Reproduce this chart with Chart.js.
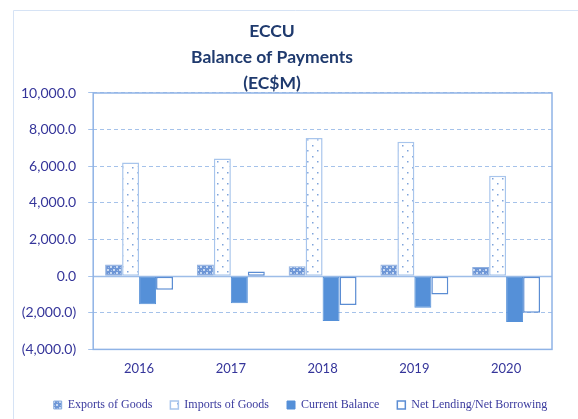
<!DOCTYPE html>
<html>
<head>
<meta charset="utf-8">
<script src="https://cdn.jsdelivr.net/npm/chart.js@4/dist/chart.umd.min.js"></script>
<style>
html,body{margin:0;padding:0;background:#fff;}
#wrap{position:relative;width:578px;height:419px;}
</style>
</head>
<body>
<div id="wrap"><canvas id="c" width="578" height="419"></canvas></div>
<script>
const categories = ['2016', '2017', '2018', '2019', '2020'];
const exportsOfGoods = [640, 640, 540, 630, 500];
const importsOfGoods = [6200, 6420, 7540, 7340, 5480];
const currentBalance = [-1530, -1480, -2450, -1720, -2510];
const netLending = [-740, 260, -1570, -1000, -2000];
const seriesNames = ['Exports of Goods', 'Imports of Goods', 'Current Balance', 'Net Lending/Net Borrowing'];
const titleLines = ['ECCU', 'Balance of Payments', '(EC$M)'];
const yMin = -4000, yMax = 10000, yStep = 2000;

function makePattern(w, h, draw) {
  const c = document.createElement('canvas');
  c.width = w; c.height = h;
  const g = c.getContext('2d');
  draw(g);
  return document.getElementById('c').getContext('2d').createPattern(c, 'repeat');
}
const exportsPattern = makePattern(6, 6, g => {
  g.fillStyle = '#6E96D6'; g.fillRect(0, 0, 6, 6);
  g.fillStyle = '#C9DAF2';
  g.fillRect(0, 0, 1, 1); g.fillRect(2, 2, 2, 2); g.fillRect(5, 0, 1, 1);
  g.fillRect(0, 5, 1, 1); g.fillRect(5, 5, 1, 1);
  g.fillStyle = '#A3BEE8';
  g.fillRect(3, 0, 1, 1); g.fillRect(0, 3, 1, 1);
});
const importsPattern = makePattern(10, 11, g => {
  g.fillStyle = '#FFFFFF'; g.fillRect(0, 0, 10, 11);
  g.fillStyle = '#7EA3DB';
  g.fillRect(2, 2, 1.5, 1.5); g.fillRect(7, 7, 1.5, 1.5);
});

function fmt(v) {
  const s = Math.abs(v).toLocaleString('en-US', {minimumFractionDigits: 1, maximumFractionDigits: 1});
  return v < 0 ? '(' + s + ')' : s;
}

const frame = {
  id: 'frame',
  beforeDraw(chart) {
    const ctx = chart.ctx;
    ctx.save();
    ctx.strokeStyle = '#D6E3F5';
    ctx.lineWidth = 1;
    ctx.beginPath();
    ctx.moveTo(13.5, 419); ctx.lineTo(13.5, 10.5); ctx.lineTo(578, 10.5);
    ctx.stroke();
    ctx.restore();
  },
  afterLayout(chart) {
    if (chart.titleBlock) { chart.titleBlock.left = 0; chart.titleBlock.right = 544; }
    if (chart.legend) { chart.legend.left += 20; chart.legend.right += 20; }
  },
  beforeDatasetsDraw(chart) {
    const ctx = chart.ctx, a = chart.chartArea;
    const y0 = Math.round(chart.scales.y.getPixelForValue(0)) + 0.5;
    ctx.save();
    ctx.strokeStyle = '#9DBDE8';
    ctx.lineWidth = 1.5;
    ctx.beginPath(); ctx.moveTo(a.left, y0); ctx.lineTo(a.right, y0); ctx.stroke();
    ctx.restore();
  },
  afterDatasetsDraw(chart) {
    const ctx = chart.ctx, a = chart.chartArea;
    ctx.save();
    ctx.strokeStyle = '#8FB3E6';
    ctx.lineWidth = 1.5;
    ctx.strokeRect(a.left, a.top, a.right - a.left, a.bottom - a.top);
    ctx.restore();
  }
};

new Chart(document.getElementById('c'), {
  type: 'bar',
  data: {
    labels: categories,
    datasets: [
      {label: seriesNames[0], data: exportsOfGoods, backgroundColor: exportsPattern, borderColor: '#8FB0E0', borderWidth: 1, borderSkipped: false},
      {label: seriesNames[1], data: importsOfGoods, backgroundColor: importsPattern, borderColor: '#A8C5EC', borderWidth: 1.5, borderSkipped: false},
      {label: seriesNames[2], data: currentBalance, backgroundColor: '#5590D8', borderColor: '#5590D8', borderWidth: 1, borderSkipped: false},
      {label: seriesNames[3], data: netLending, backgroundColor: '#FFFFFF', borderColor: '#5B8DD3', borderWidth: 1.5, borderSkipped: false}
    ]
  },
  options: {
    responsive: false,
    animation: false,
    events: [],
    layout: {padding: {top: 18, left: 9, right: 26, bottom: -2}},
    datasets: {bar: {categoryPercentage: 0.74, barPercentage: 1.0}},
    plugins: {
      title: {
        display: true,
        text: titleLines,
        color: '#1F3A6E',
        font: {family: 'Lato', size: 17.5, weight: 'bold', lineHeight: 1.4857},
        padding: {top: 0, bottom: -3}
      },
      legend: {
        position: 'bottom',
        labels: {
          color: '#3A3A9E',
          font: {family: 'Liberation Serif', size: 12},
          boxWidth: 8, boxHeight: 8, padding: 18
        }
      },
      tooltip: {enabled: false}
    },
    scales: {
      x: {
        grid: {display: false},
        border: {display: false},
        ticks: {color: '#35359A', font: {family: 'Lato', size: 13}, padding: 4}
      },
      y: {
        min: yMin, max: yMax,
        grid: {color: '#A5C2EA', lineWidth: 1, drawTicks: true, tickLength: 5, tickColor: '#A5C2EA'},
        border: {display: false, dash: [4, 3]},
        ticks: {stepSize: yStep, color: '#35359A', font: {family: 'Lato', size: 14}, padding: 12, callback: v => fmt(v)}
      }
    }
  },
  plugins: [frame]
});
</script>
</body>
</html>
